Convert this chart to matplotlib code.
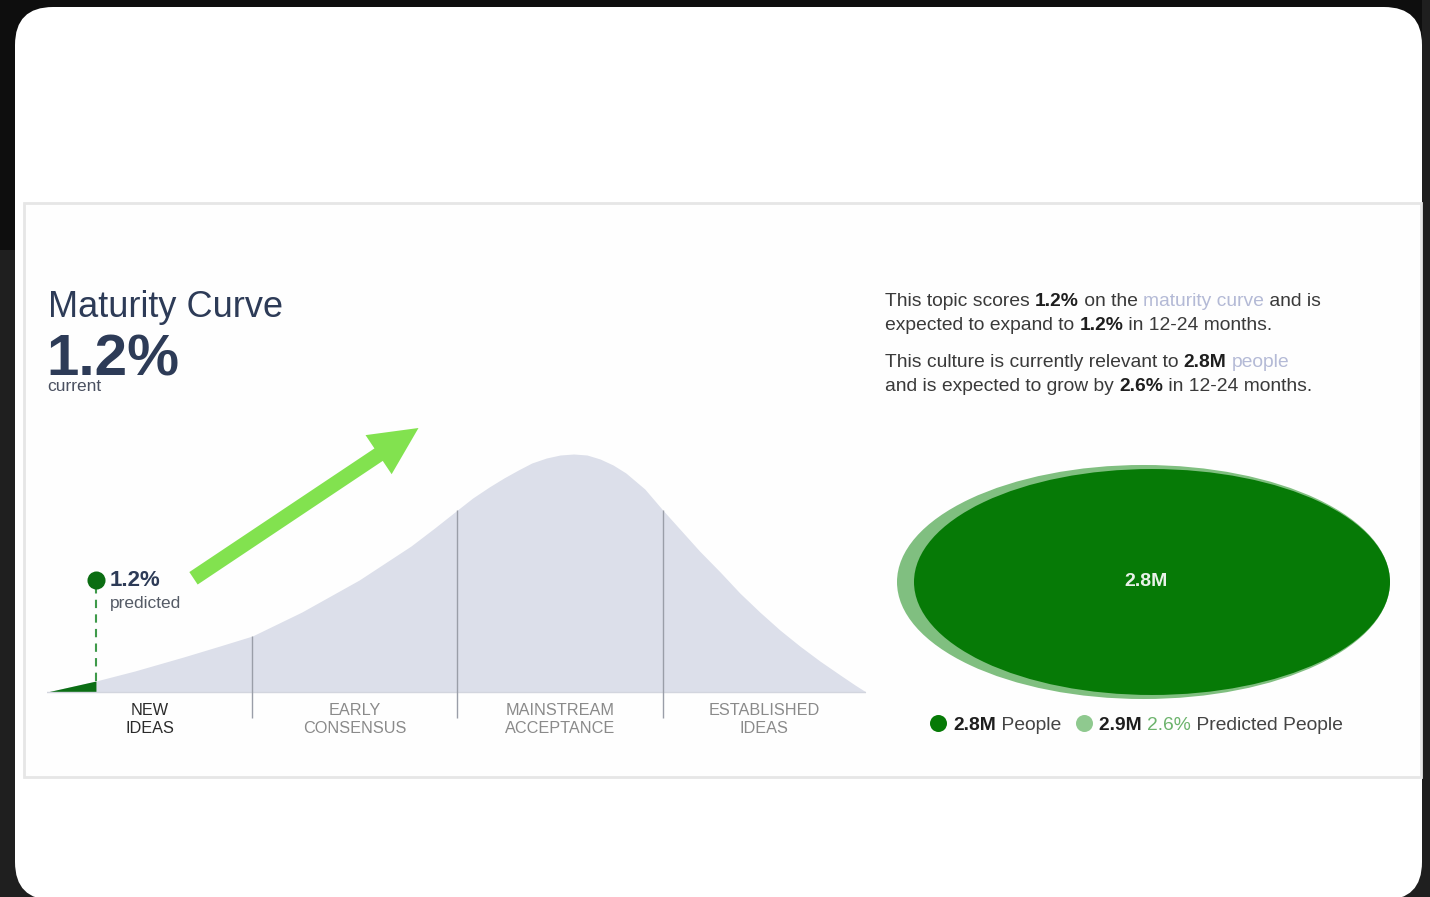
import matplotlib.pyplot as plt
import numpy as np
from matplotlib.patches import FancyBboxPatch, Rectangle, Ellipse, FancyArrow
from matplotlib.transforms import blended_transform_factory

plt.rcParams['font.family'] = ['Liberation Sans', 'DejaVu Sans']

W, H = 1430, 897

# maturity curve: position along the curve (%) and relative interest
curve_pos = [0, 1.2, 3.0, 6.0, 8.7, 11.4, 16, 22, 28, 30.9, 33.8, 35.8, 38, 40.0,
             42, 43.9, 46, 48.0, 50, 52.0, 54, 56.0, 58, 61.0, 63.9, 66.7, 70.0,
             73.5, 76.9, 80.4, 84.0, 87.6, 91.3, 95.1, 97.9, 100]
curve_height = [0, 11, 21, 35, 46, 56, 80, 112, 146, 164, 182, 194, 205, 214,
                222, 229, 234, 237, 238, 237, 233, 227, 219, 203, 182, 163, 141,
                120, 99, 80, 62, 46, 31, 17, 7, 0]
stage_edges = [11.4, 33.8, 63.9]
stage_names = ['NEW\nIDEAS', 'EARLY\nCONSENSUS', 'MAINSTREAM\nACCEPTANCE', 'ESTABLISHED\nIDEAS']
current_stage = 0

maturity_now = 1.2
maturity_pred = 1.2
people_now = 2.8      # millions
people_pred = 2.9
people_growth = 2.6

DARK = '#2d3b57'
TXT = '#3a3a3a'
BOLD = '#1e1e1e'
LINK = '#b4bad6'
GREEN = '#067a06'
LIGHT_GREEN = '#80bf80'


def px_axes(fig, x0, y0, x1, y1):
    return fig.add_axes([x0 / W, 1 - y1 / H, (x1 - x0) / W, (y1 - y0) / H])


def rich(ax, x, y, parts, size):
    t = None
    for s, color, weight in parts:
        if t is None:
            t = ax.text(x, y, s, color=color, fontsize=size, fontweight=weight, va='baseline')
        else:
            t = ax.annotate(s, xy=(1, 0), xycoords=t, va='bottom',
                            color=color, fontsize=size, fontweight=weight)
    return t


fig = plt.figure(figsize=(W / 100, H / 100), dpi=100, facecolor='#1f1f1f')

# page background in pixel coordinates
bg = fig.add_axes([0, 0, 1, 1])
bg.set_xlim(0, W)
bg.set_ylim(H, 0)
bg.axis('off')
bg.add_patch(Rectangle((0, 0), 1422, 250, fc='#0e0e0e', ec='none'))
bg.add_patch(FancyBboxPatch((15, 7), 1407, 893, boxstyle='round,pad=0,rounding_size=38',
                            fc='white', ec='none'))
bg.add_patch(Rectangle((24, 203), 1397, 574, fc='#fefefe', ec='#e6e6e6', lw=2))

# header
bg.text(48, 317, 'Maturity Curve', fontsize=26, color=DARK, va='baseline')
bg.text(46, 375, f'{maturity_now}%', fontsize=42, fontweight='bold', color=DARK, va='baseline')
bg.text(47, 391, 'current', fontsize=12.5, color='#4a5060', va='baseline')

# description
fs = 13.9
rich(bg, 885, 306, [('This topic scores ', TXT, 'normal'), (f'{maturity_now}%', BOLD, 'bold'),
                    (' on the ', TXT, 'normal'), ('maturity curve', LINK, 'normal'),
                    (' and is', TXT, 'normal')], fs)
rich(bg, 885, 330, [('expected to expand to ', TXT, 'normal'), (f'{maturity_pred}%', BOLD, 'bold'),
                    (' in 12-24 months.', TXT, 'normal')], fs)
rich(bg, 885, 367, [('This culture is currently relevant to ', TXT, 'normal'),
                    (f'{people_now}M', BOLD, 'bold'), (' ', TXT, 'normal'),
                    ('people', LINK, 'normal')], fs)
rich(bg, 885, 391, [('and is expected to grow by ', TXT, 'normal'), (f'{people_growth}%', BOLD, 'bold'),
                    (' in 12-24 months.', TXT, 'normal')], fs)

# maturity curve with a power scale on the x axis
P = 0.637


def fwd(v):
    return np.power(np.clip(v, 0, None) / 100.0, P)


def inv(t):
    return 100.0 * np.power(np.clip(t, 0, None), 1.0 / P)


ax = px_axes(fig, 47, 440, 866, 720)
ax.set_xscale('function', functions=(fwd, inv))
ax.set_xlim(0, 100)
ax.set_ylim(-28, 252)
ax.axis('off')

cx = np.array(curve_pos, dtype=float)
cy = np.array(curve_height, dtype=float)
ax.fill_between(cx, 0, cy, color='#dcdfea', lw=0)
ax.axhline(0, color='#d2d5de', lw=1)
done = cx <= maturity_now
ax.fill_between(cx[done], 0, cy[done], color='#0b6e14', lw=0)

edge_h = np.interp(stage_edges, cx, cy)
ax.vlines(stage_edges, -26, edge_h, color='#9a9ea8', lw=1)

# stage names centred between the dividers
lab_tr = blended_transform_factory(ax.transAxes, ax.transData)
bounds = [0] + stage_edges + [100]
for i, name in enumerate(stage_names):
    mid = (fwd(bounds[i]) + fwd(bounds[i + 1])) / 2
    ax.text(mid, -27, name, transform=lab_tr, ha='center', va='center',
            fontsize=11.7, linespacing=1.25,
            color='#2b2b2b' if i == current_stage else '#8a8a8a')

dot_h = 112
h_at = np.interp(maturity_pred, cx, cy)
ax.plot([maturity_pred, maturity_pred], [h_at, dot_h], color='#3f9a4a', lw=1.5, ls=(0, (4, 3)))
ax.plot(maturity_pred, dot_h, 'o', ms=13, color='#0b6d12', mec='none')
ax.annotate(f'{maturity_pred}%', xy=(maturity_pred, dot_h), xytext=(10, 0), textcoords='offset points',
            va='center', fontsize=16, fontweight='bold', color=DARK)
ax.annotate('predicted', xy=(maturity_pred, dot_h), xytext=(10, -17), textcoords='offset points',
            va='center', fontsize=12.5, color='#555b66')

# growth arrow
bg.add_patch(FancyArrow(193.5, 578.3, 225, -150.3, width=15, head_width=47, head_length=48,
                        length_includes_head=True, fc='#82e24f', ec='none'))

# people bubbles, sized by value and aligned on the right edge
sx, sy = 170, 80.7
right = 1390
w_pred, h_pred = people_pred * sx, people_pred * sy
w_now, h_now = people_now * sx, people_now * sy
bg.add_patch(Ellipse((right - w_pred / 2, 582), w_pred, h_pred, fc=LIGHT_GREEN, ec='none'))
bg.add_patch(Ellipse((right - w_now / 2, 582), w_now, h_now, fc=GREEN, ec='none'))
bg.text(right - w_now / 2 - 6, 582, f'{people_now}M', ha='center', va='center',
        fontsize=14, fontweight='bold', color='#e8f2e8')

# legend
bg.scatter([938], [723], s=150, color=GREEN, lw=0)
rich(bg, 953, 730, [(f'{people_now}M', BOLD, 'bold'), (' People', '#444444', 'normal')], fs)
bg.scatter([1084], [723], s=150, color='#8fc98f', lw=0)
rich(bg, 1099, 730, [(f'{people_pred}M ', BOLD, 'bold'), (f'{people_growth}%', '#6cb36c', 'normal'),
                     (' Predicted People', '#444444', 'normal')], fs)

fig.savefig('out.png', dpi=100, facecolor=fig.get_facecolor())
